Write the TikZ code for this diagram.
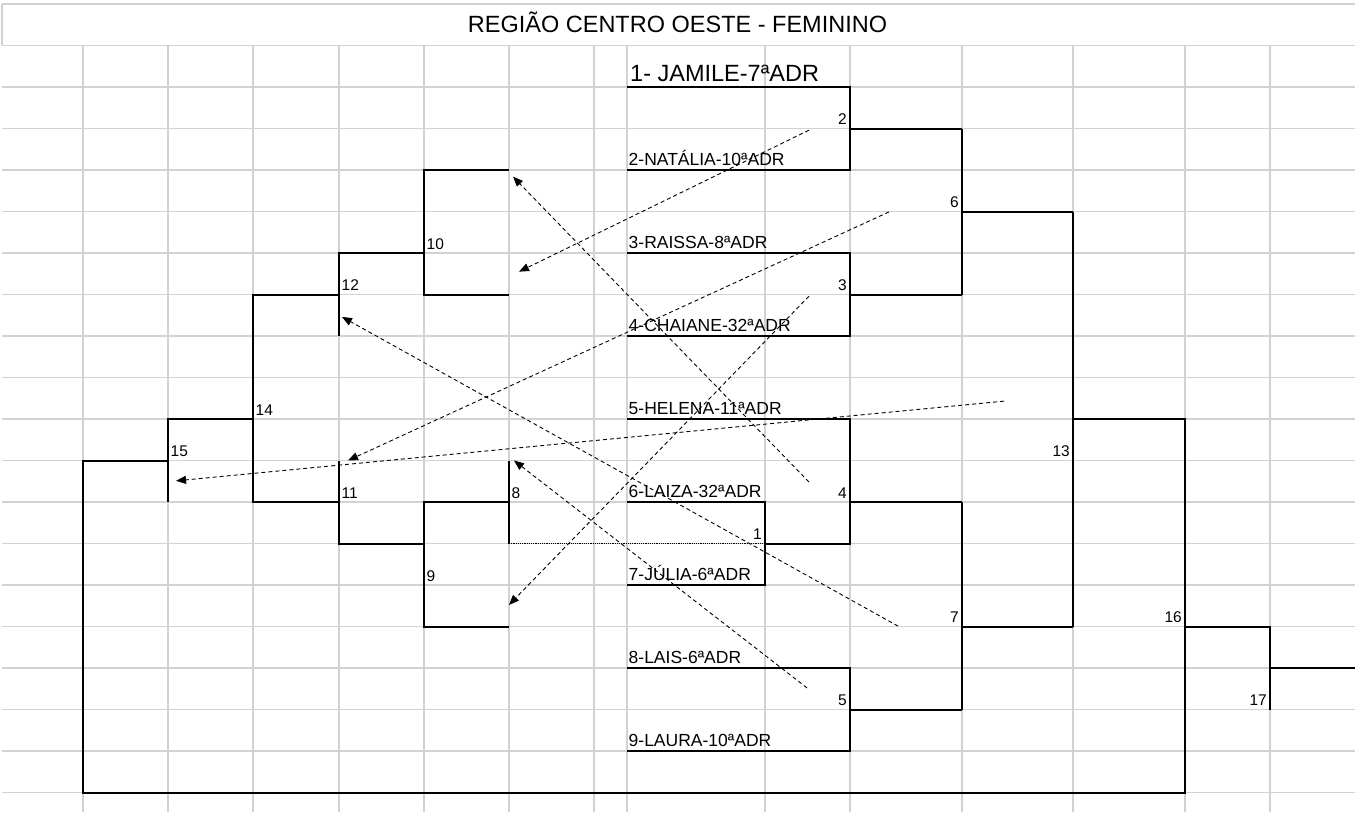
\documentclass[tikz,border=0pt]{standalone}
\usepackage{fontspec}
\setmainfont{Liberation Sans}
\usetikzlibrary{arrows.meta}
\definecolor{grade}{RGB}{210,210,210}

\begin{document}
\begin{tikzpicture}[x=1pt, y=-41.5pt,
    linhagrade/.style={grade, line width=1.5pt},
    chave/.style={line width=2pt, line join=miter},
    pontilhado/.style={line width=1.1pt, dash pattern=on 1.2pt off 1pt},
    seta/.style={line width=0.9pt, dash pattern=on 4pt off 3pt, -{Triangle[length=10pt,width=8pt]}},
    nome/.style={anchor=base west, inner sep=0pt, yshift=4.5pt, font=\fontsize{17.5}{18}\selectfont},
    jogo/.style={anchor=base east, inner sep=0pt, yshift=4pt, font=\fontsize{15.5}{16}\selectfont},
    jogoesq/.style={jogo, anchor=base west}]
  \useasboundingbox (0,-0.0964) rectangle (1355,19.47);
  \fill[white] (0,-0.0964) rectangle (1355,19.47);

  % grade da planilha
  \foreach \i in {0,...,19}
    \draw[linhagrade] (2,\i) -- (1355,\i);
  \draw[linhagrade] (2,0) -- (2,1);
  \foreach \c in {83,168,253,339,424,509,594,627,765,850,962,1073,1185,1270}
    \draw[linhagrade] (\c,1) -- (\c,19.47);

  % titulo
  \node[anchor=base, inner sep=0pt, font=\fontsize{23.5}{24}\selectfont] (titulo) at (677.5,0.68) {REGIÃO CENTRO OESTE - FEMININO};

  % chave direita
  \draw[chave] (627,2) -| (850,4) -- (627,4);
  \draw[chave] (850,3) -- (962,3);
  \draw[chave] (627,6) -| (850,8) -- (627,8);
  \draw[chave] (850,7) -- (962,7);
  \draw[chave] (962,3) -- (962,7);
  \draw[chave] (962,5) -- (1073,5);
  \draw[chave] (627,10) -| (850,13) -- (765,13);
  \draw[chave] (627,12) -| (765,14) -- (627,14);
  \draw[chave] (850,12) -- (962,12);
  \draw[chave] (627,16) -| (850,18) -- (627,18);
  \draw[chave] (850,17) -- (962,17);
  \draw[chave] (962,12) -- (962,17);
  \draw[chave] (962,15) -- (1073,15);
  \draw[chave] (1073,5) -- (1073,15);
  \draw[chave] (1073,10) -| (1185,19) -- (83,19) |- (168,11);
  \draw[chave] (1185,15) -| (1270,17);
  \draw[chave] (1270,16) -- (1355,16);

  % chave esquerda (repescagem)
  \draw[chave] (509,4) -| (424,7) -- (509,7);
  \draw[chave] (424,6) -| (339,8);
  \draw[chave] (339,7) -| (253,12) -- (339,12);
  \draw[chave] (253,10) -| (168,12);
  \draw[chave] (339,11) |- (424,13);
  \draw[chave] (509,12) -| (424,15) -- (509,15);
  \draw[chave] (509,11) -- (509,13);
  \draw[pontilhado] (509,13) -- (765,13);

  % atletas
  \node[nome, font=\fontsize{23.5}{24}\selectfont, yshift=0.8pt] (jamile) at (630,2) {1- JAMILE-7ªADR};
  \node[nome] (natalia) at (628.5,4) {2-NATÁLIA-10ªADR};
  \node[nome] (raissa) at (628.5,6) {3-RAISSA-8ªADR};
  \node[nome] (chaiane) at (628.5,8) {4-CHAIANE-32ªADR};
  \node[nome] (helena) at (628.5,10) {5-HELENA-11ªADR};
  \node[nome] (laiza) at (628.5,12) {6-LAIZA-32ªADR};
  \node[nome] (julia) at (628.5,14) {7-JÚLIA-6ªADR};
  \node[nome] (lais) at (628.5,16) {8-LAIS-6ªADR};
  \node[nome] (laura) at (628.5,18) {9-LAURA-10ªADR};

  % numeros dos jogos
  \node[jogo] (j1) at (762,13) {1};
  \node[jogo] (j2) at (847,3) {2};
  \node[jogo] (j3) at (847,7) {3};
  \node[jogo] (j4) at (847,12) {4};
  \node[jogo] (j5) at (847,17) {5};
  \node[jogo] (j6) at (959,5) {6};
  \node[jogo] (j7) at (959,15) {7};
  \node[jogo] (j13) at (1070,11) {13};
  \node[jogo] (j16) at (1182,15) {16};
  \node[jogo] (j17) at (1267,17) {17};
  \node[jogoesq] (j8) at (511.5,12) {8};
  \node[jogoesq] (j9) at (426.5,14) {9};
  \node[jogoesq] (j10) at (426.5,6) {10};
  \node[jogoesq] (j11) at (341.5,12) {11};
  \node[jogoesq] (j12) at (341.5,7) {12};
  \node[jogoesq] (j14) at (255.5,10) {14};
  \node[jogoesq] (j15) at (170.5,11) {15};

  % setas das perdedoras
  \coordinate (sai2) at (809,3.04);
  \coordinate (sai3) at (809,7.04);
  \coordinate (sai4) at (809,11.52);
  \coordinate (sai5) at (807,16.48);
  \coordinate (sai6) at (889,5.01);
  \coordinate (sai7) at (898,14.99);
  \coordinate (sai13) at (1004,9.57);
  \coordinate (entra10a) at (519,6.45);
  \coordinate (entra10b) at (513,4.16);
  \coordinate (entra9) at (509,14.48);
  \coordinate (entra8) at (514,11.0);
  \coordinate (entra11) at (348,11.0);
  \coordinate (entra12) at (342,7.54);
  \coordinate (entra15) at (176,11.49);
  \draw[seta] (sai2) -- (entra10a);
  \draw[seta] (sai4) -- (entra10b);
  \draw[seta] (sai3) -- (entra9);
  \draw[seta] (sai5) -- (entra8);
  \draw[seta] (sai6) -- (entra11);
  \draw[seta] (sai7) -- (entra12);
  \draw[seta] (sai13) -- (entra15);
\end{tikzpicture}
\end{document}
